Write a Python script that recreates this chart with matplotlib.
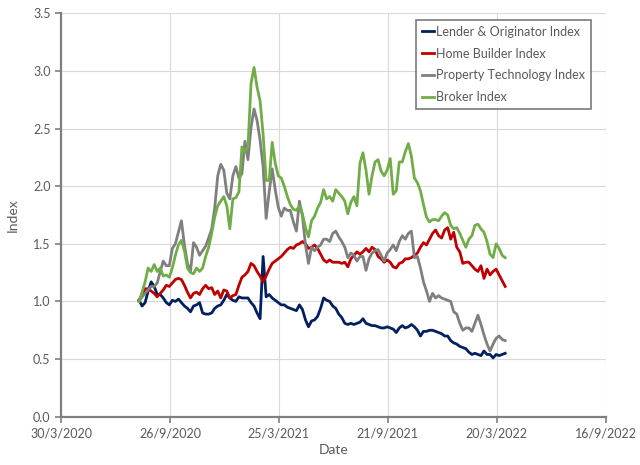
import matplotlib
matplotlib.use("Agg")
import matplotlib.pyplot as plt
import pandas as pd
import numpy as np

# sample dates (every 5 days, Aug 2020 - Apr 2022)
dates = pd.date_range("2020-08-06", periods=122, freq="5D")

lender = [1.01, 0.96, 0.99, 1.09, 1.17, 1.13, 1.06, 1.06, 1.03, 0.99, 0.97, 1.01, 1.00, 1.02, 0.99, 0.96, 0.94, 0.91, 0.96, 0.97, 0.99,
          0.90, 0.89, 0.89, 0.90, 0.94, 0.96, 0.97, 1.01, 1.06, 1.03, 1.01, 1.00, 1.04, 1.03, 1.03, 1.03, 0.99, 0.96, 0.90, 0.85,
          1.39, 1.04, 1.06, 1.03, 1.01, 0.99, 0.97, 0.97, 0.95, 0.94, 0.93, 0.92, 0.97, 0.93, 0.84, 0.78, 0.83, 0.84, 0.87, 0.94, 1.03,
          1.01, 1.00, 0.96, 0.94, 0.89, 0.86, 0.81, 0.80, 0.81, 0.80, 0.81, 0.82, 0.85, 0.81, 0.80, 0.79, 0.79, 0.78, 0.77, 0.77,
          0.78, 0.77, 0.76, 0.73, 0.77, 0.79, 0.77, 0.78, 0.80, 0.78, 0.75, 0.70, 0.74, 0.74, 0.75, 0.75, 0.74, 0.73, 0.72, 0.70, 0.70,
          0.66, 0.64, 0.63, 0.61, 0.60, 0.59, 0.56, 0.54, 0.55, 0.54, 0.53, 0.57, 0.54, 0.54, 0.51, 0.54, 0.53, 0.54, 0.55]

home_builder = [1.01, 1.06, 1.11, 1.11, 1.09, 1.07, 1.04, 1.07, 1.10, 1.14, 1.13, 1.16, 1.19, 1.20, 1.19, 1.14, 1.08, 1.03, 1.07, 1.08, 1.06,
                1.11, 1.14, 1.11, 1.12, 1.06, 1.09, 1.03, 1.10, 1.09, 1.03, 1.05, 1.06, 1.14, 1.21, 1.23, 1.26, 1.33, 1.31, 1.26, 1.22,
                1.17, 1.22, 1.28, 1.33, 1.35, 1.37, 1.39, 1.42, 1.45, 1.47, 1.46, 1.49, 1.50, 1.52, 1.50, 1.46, 1.47, 1.49, 1.46, 1.41, 1.36,
                1.34, 1.36, 1.34, 1.34, 1.34, 1.33, 1.34, 1.30, 1.37, 1.40, 1.43, 1.41, 1.43, 1.46, 1.43, 1.47, 1.45, 1.39, 1.37, 1.34,
                1.36, 1.34, 1.30, 1.29, 1.33, 1.34, 1.37, 1.37, 1.38, 1.40, 1.42, 1.47, 1.51, 1.49, 1.54, 1.59, 1.62, 1.57, 1.55, 1.62, 1.64,
                1.54, 1.60, 1.47, 1.43, 1.33, 1.34, 1.34, 1.31, 1.28, 1.26, 1.31, 1.20, 1.28, 1.23, 1.26, 1.28, 1.23, 1.18, 1.13]

prop_tech = [1.00, 1.04, 1.07, 1.10, 1.13, 1.13, 1.16, 1.26, 1.35, 1.31, 1.31, 1.46, 1.50, 1.60, 1.70, 1.49, 1.33, 1.26, 1.51, 1.47, 1.40,
             1.44, 1.48, 1.55, 1.63, 1.81, 2.09, 2.19, 2.14, 1.94, 1.89, 2.09, 2.17, 2.07, 2.11, 2.39, 2.23, 2.51, 2.67, 2.57, 2.40,
             2.17, 1.72, 1.95, 2.15, 1.97, 1.82, 1.74, 1.81, 1.79, 1.79, 1.69, 1.61, 1.87, 1.74, 1.49, 1.33, 1.47, 1.44, 1.47, 1.49, 1.54,
             1.54, 1.52, 1.59, 1.61, 1.56, 1.52, 1.47, 1.38, 1.42, 1.40, 1.35, 1.39, 1.39, 1.27, 1.37, 1.42, 1.44, 1.45, 1.40, 1.35,
             1.42, 1.45, 1.49, 1.44, 1.52, 1.57, 1.54, 1.59, 1.61, 1.38, 1.39, 1.29, 1.17, 1.09, 1.00, 1.07, 1.03, 1.05, 1.03, 1.02, 1.01,
             1.00, 0.91, 0.89, 0.81, 0.75, 0.77, 0.77, 0.74, 0.81, 0.88, 0.80, 0.71, 0.63, 0.57, 0.63, 0.68, 0.70, 0.67, 0.66]

broker = [1.00, 1.08, 1.17, 1.29, 1.26, 1.32, 1.26, 1.29, 1.22, 1.23, 1.21, 1.29, 1.40, 1.49, 1.53, 1.44, 1.29, 1.25, 1.24, 1.29, 1.26,
          1.29, 1.39, 1.47, 1.59, 1.73, 1.83, 1.87, 1.91, 1.83, 1.63, 1.89, 1.90, 1.95, 2.34, 2.30, 2.34, 2.89, 3.03, 2.86, 2.74,
          2.45, 2.05, 2.05, 2.38, 2.20, 2.09, 2.07, 2.00, 1.91, 1.84, 1.80, 1.79, 1.83, 1.76, 1.64, 1.56, 1.70, 1.74, 1.81, 1.86, 1.97,
          1.89, 1.91, 1.87, 1.97, 1.94, 1.91, 1.87, 1.76, 1.86, 1.91, 1.83, 2.20, 2.29, 2.14, 1.93, 2.09, 2.21, 2.23, 2.13, 2.09,
          2.14, 2.24, 1.93, 1.96, 2.21, 2.21, 2.30, 2.37, 2.26, 2.07, 2.03, 1.96, 1.84, 1.73, 1.69, 1.71, 1.71, 1.70, 1.74, 1.77, 1.75,
          1.66, 1.63, 1.64, 1.59, 1.53, 1.47, 1.54, 1.57, 1.66, 1.67, 1.63, 1.60, 1.52, 1.41, 1.38, 1.50, 1.46, 1.40, 1.38]

series_names = ["Lender & Originator Index", "Home Builder Index",
                "Property Technology Index", "Broker Index"]
series_values = [lender, home_builder, prop_tech, broker]
series_colors = ["#002060", "#C00000", "#7F7F7F", "#70AD47"]

x_ticks = pd.date_range("2020-03-30", periods=6, freq="180D")
y_ticks = np.arange(0, 3.51, 0.5)

plt.rcParams["font.family"] = ["Lato", "DejaVu Sans"]
text_color = "#595959"

fig = plt.figure(figsize=(6.4, 4.65), dpi=100)
ax = fig.add_axes([0.0953, 0.1039, 0.851, 0.8675])

for name, vals, col in zip(series_names, series_values, series_colors):
    ax.plot(dates, vals, color=col, lw=2.0, label=name, solid_joinstyle="round")

ax.set_xlim(x_ticks[0], x_ticks[-1])
ax.set_ylim(0, 3.5)
ax.set_xticks(x_ticks)
ax.set_xticklabels([f"{d.day}/{d.month}/{d.year}" for d in x_ticks])
ax.set_yticks(y_ticks)
ax.set_yticklabels([f"{v:.1f}" for v in y_ticks])

ax.grid(True, color="#D9D9D9", lw=0.8)
ax.set_axisbelow(True)
for s in ["top", "right"]:
    ax.spines[s].set_visible(False)
for s in ["left", "bottom"]:
    ax.spines[s].set_color("#7F7F7F")
    ax.spines[s].set_linewidth(1.6)
ax.tick_params(axis="both", colors="#7F7F7F", labelcolor=text_color,
               labelsize=9, length=4, width=1.2, direction="out")
ax.tick_params(axis="x", pad=4)

ax.set_xlabel("Date", color=text_color, fontsize=10, labelpad=3)
ax.set_ylabel("Index", color=text_color, fontsize=10, labelpad=10)

leg = ax.legend(loc="upper right", bbox_to_anchor=(0.973, 0.983), fontsize=9,
                frameon=True, fancybox=False, handlelength=1.0, handletextpad=0.15,
                borderpad=0.45, labelspacing=0.78, borderaxespad=0.0)
leg.get_frame().set_edgecolor("#595959")
leg.get_frame().set_linewidth(1.2)
for t in leg.get_texts():
    t.set_color(text_color)

fig.savefig("out.png", dpi=100)
